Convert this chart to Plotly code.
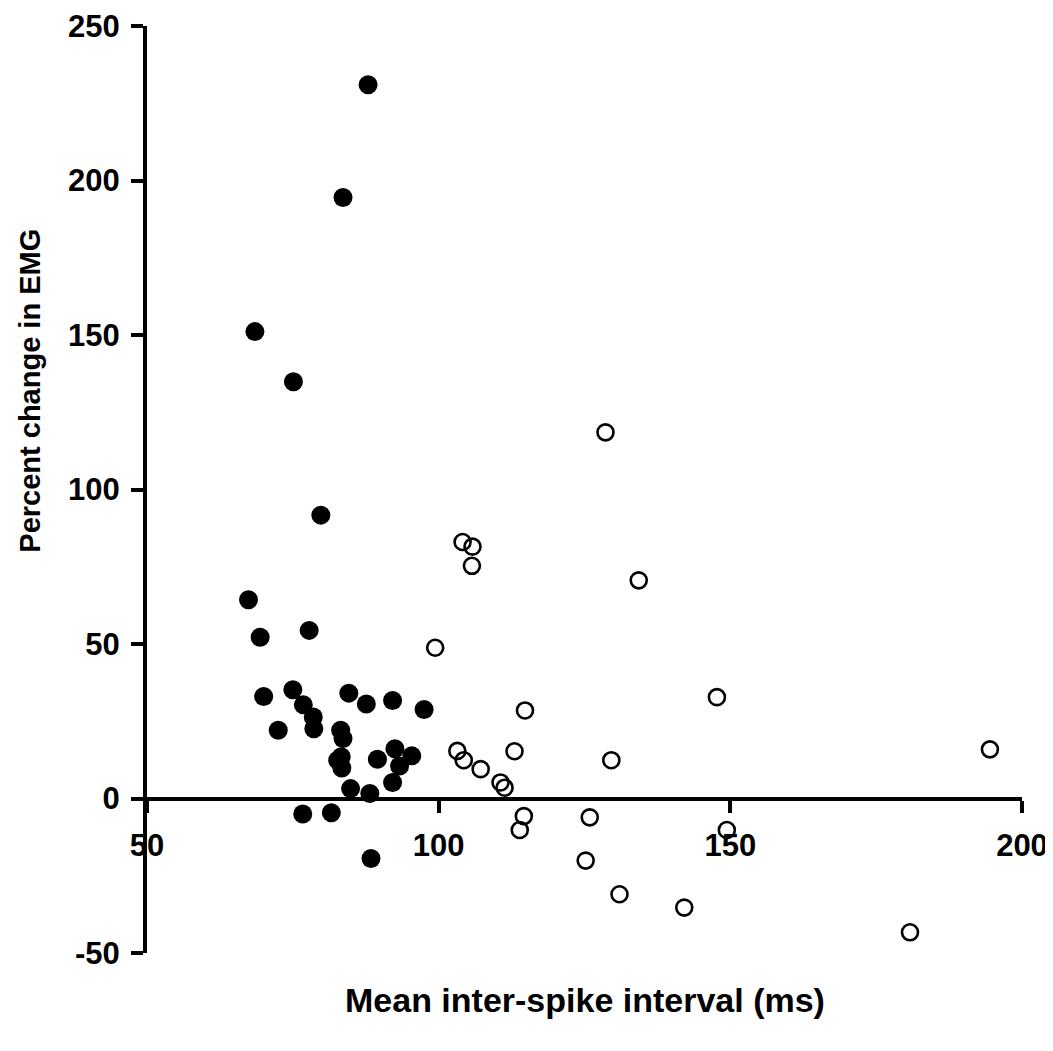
import plotly.graph_objects as go

# Filled circles
filled_x = [87.9, 83.6, 68.5, 75.1, 79.8, 67.4, 77.8, 69.4,
            70.0, 75.0, 76.8, 78.5, 78.6, 72.5, 83.2, 83.6, 83.3, 82.7, 83.4,
            84.6, 87.6, 92.1, 97.5, 92.5, 95.4, 93.3, 89.5, 92.1, 84.9, 88.2,
            76.7, 81.6, 88.4]
filled_y = [231.0, 194.5, 151.1, 134.9, 91.7, 64.3, 54.4, 52.2,
            33.0, 35.2, 30.3, 26.4, 22.6, 22.1, 22.1, 19.4, 13.5, 12.4, 9.9,
            34.1, 30.6, 31.7, 28.8, 16.1, 13.8, 10.5, 12.7, 5.2, 3.2, 1.6,
            -5.0, -4.6, -19.4]

# Open circles
open_x = [128.6, 104.1, 105.8, 105.7, 134.3, 99.4, 147.7, 114.8, 103.2, 104.3,
          107.2, 113.0, 129.6, 110.6, 111.3, 114.6, 113.9, 125.9, 125.2, 131.0,
          142.1, 149.4, 194.5, 180.8]
open_y = [118.5, 83.0, 81.5, 75.3, 70.6, 48.8, 32.8, 28.5, 15.4, 12.4,
          9.5, 15.3, 12.4, 5.2, 3.5, -5.7, -10.2, -6.1, -20.1, -31.0,
          -35.3, -10.2, 15.9, -43.3]

x_ticks = [50, 100, 150, 200]
y_ticks = [-50, 0, 50, 100, 150, 200, 250]

x_title = "Mean inter-spike interval (ms)"
y_title = "Percent change in EMG"

FONT = "Liberation Sans, Arial, sans-serif"

fig = go.Figure()
fig.add_trace(go.Scatter(
    x=filled_x, y=filled_y, mode="markers", name="filled",
    marker=dict(symbol="circle", size=19, color="black", line=dict(width=0)),
    showlegend=False))
fig.add_trace(go.Scatter(
    x=open_x, y=open_y, mode="markers", name="open",
    marker=dict(symbol="circle-open", size=16, color="black",
                line=dict(width=2.6, color="black")),
    showlegend=False))

# page body has an 8px default margin; size the figure so it ends at the window edge
fig.update_layout(
    width=1045, height=1043,
    margin=dict(l=139, r=31, t=18, b=98, autoexpand=False),
    paper_bgcolor="white", plot_bgcolor="white",
    font=dict(family=FONT, color="black"),
    xaxis=dict(
        range=[50, 200], tickvals=x_ticks, ticktext=[str(v) for v in x_ticks],
        showgrid=False, zeroline=False, showline=True, linewidth=4, linecolor="black",
        ticks="outside", ticklen=12, tickwidth=4, tickcolor="black",
        tickfont=dict(size=31, family=FONT, weight="bold"),
        ticklabelstandoff=6, ticklabeloverflow="allow",
        anchor="free", position=1/6, automargin=False,
    ),
    yaxis=dict(
        range=[-50, 250], tickvals=y_ticks, ticktext=[str(v) for v in y_ticks],
        showgrid=False, zeroline=False, showline=True, linewidth=4, linecolor="black",
        ticks="outside", ticklen=12, tickwidth=4, tickcolor="black",
        tickfont=dict(size=31, family=FONT, weight="bold"),
        ticklabelstandoff=5, ticklabeloverflow="allow",
        automargin=False,
    ),
    annotations=[
        dict(text=x_title, xref="paper", yref="paper", x=0.5, y=-0.0504,
             xanchor="center", yanchor="middle", showarrow=False,
             font=dict(size=34, family=FONT, weight="bold", color="black")),
        dict(text=y_title, xref="paper", yref="paper", x=-0.1337, y=0.6066,
             xanchor="center", yanchor="middle", showarrow=False, textangle=-90,
             font=dict(size=29, family=FONT, weight="bold", color="black")),
    ],
)

fig.write_html("out.html")
